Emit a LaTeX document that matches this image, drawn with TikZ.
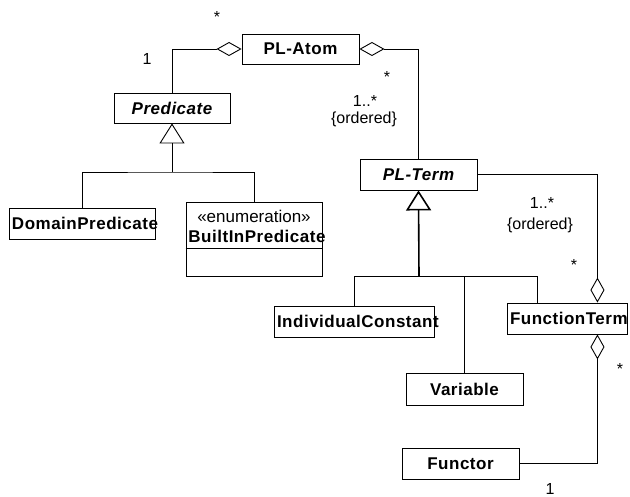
\documentclass[tikz,border=0pt]{standalone}
\usepackage{fontspec}
\setmainfont{Liberation Sans}
\usetikzlibrary{arrows.meta,calc}
\begin{document}
\begin{tikzpicture}[x=1pt,y=-1pt,line width=0.9pt,
    cls/.style={draw,inner sep=3pt,minimum height=31pt,font=\fontsize{17}{20}\selectfont\bfseries\addfontfeatures{LetterSpace=3}},
    abstr/.style={cls,font=\fontsize{17}{20}\selectfont\bfseries\itshape\addfontfeatures{LetterSpace=3}},
    lbl/.style={inner sep=0pt,font=\fontsize{16}{19}\selectfont},
    agg/.style={-{Diamond[open,length=25pt,width=14pt]}},
    gen/.style={-{Triangle[open,length=20pt,width=25pt]}}]
    \useasboundingbox (0,0) rectangle (630,497);

    \node[cls,minimum width=117pt,minimum height=30pt] (atom) at (300.5,49) {PL-Atom};
    \node[abstr,minimum width=116pt,minimum height=30pt] (pred) at (172,108) {Predicate};
    \node[cls,text width=140pt,align=left] (domain) at (82,223.5) {\mbox{DomainPredicate}};
    \node[draw,minimum width=136pt,minimum height=74pt] (builtin) at (254,239) {};
    \node[lbl,font=\fontsize{17}{20}\selectfont] (enum) at (254,216) {«enumeration»};
    \node[lbl,anchor=west,font=\fontsize{17}{20}\selectfont\bfseries\addfontfeatures{LetterSpace=3}] (builtinname) at (188,236) {BuiltInPredicate};
    \draw (builtin.west |- 0,248) -- (builtin.east |- 0,248);
    \node[abstr,minimum width=117pt] (term) at (418.5,174.5) {PL-Term};
    \node[cls,text width=154pt,align=left] (indiv) at (354,321.5) {\mbox{IndividualConstant}};
    \node[cls,minimum width=117pt,minimum height=32pt] (var) at (464.5,389) {Variable};
    \node[cls,text width=114pt,align=left] (functerm) at (567,318.5) {\mbox{FunctionTerm}};
    \node[cls,minimum width=117pt] (functor) at (460.5,463.5) {Functor};

    \coordinate (predjoin) at (172,172);
    \coordinate (termjoin) at (419,276);
    \coordinate (ftjoin) at (537,276);

    \draw[agg] (pred.north) |- (atom.west);
    \draw[agg] (term.north) |- (atom.east);
    \draw[gen] (predjoin) -- (pred.south);
    \draw (domain.north) |- (predjoin) -| (builtin.north);
    \draw[gen,line width=1.6pt] (termjoin) -- (term.south);
    \draw (indiv.north) |- (ftjoin) -- (ftjoin |- functerm.north);
    \draw (var.north) -- (var.north |- termjoin);
    \draw[agg] (term.east) -| ($(functerm.north east)+(-30,0)$);
    \draw[agg] (functor.east) -| ($(functerm.south east)+(-30,0)$);

    \node[lbl] (m1) at (217,17) {*};
    \node[lbl] (m2) at (147,59) {1};
    \node[lbl] (m3) at (387,77) {*};
    \node[lbl] (m4) at (365,101) {1..*};
    \node[lbl] (m5) at (364,119) {\{ordered\}};
    \node[lbl] (m6) at (542,203) {1..*};
    \node[lbl] (m7) at (540,225) {\{ordered\}};
    \node[lbl] (m8) at (574,265) {*};
    \node[lbl] (m9) at (620,369) {*};
    \node[lbl] (m10) at (550,489) {1};
\end{tikzpicture}
\end{document}
